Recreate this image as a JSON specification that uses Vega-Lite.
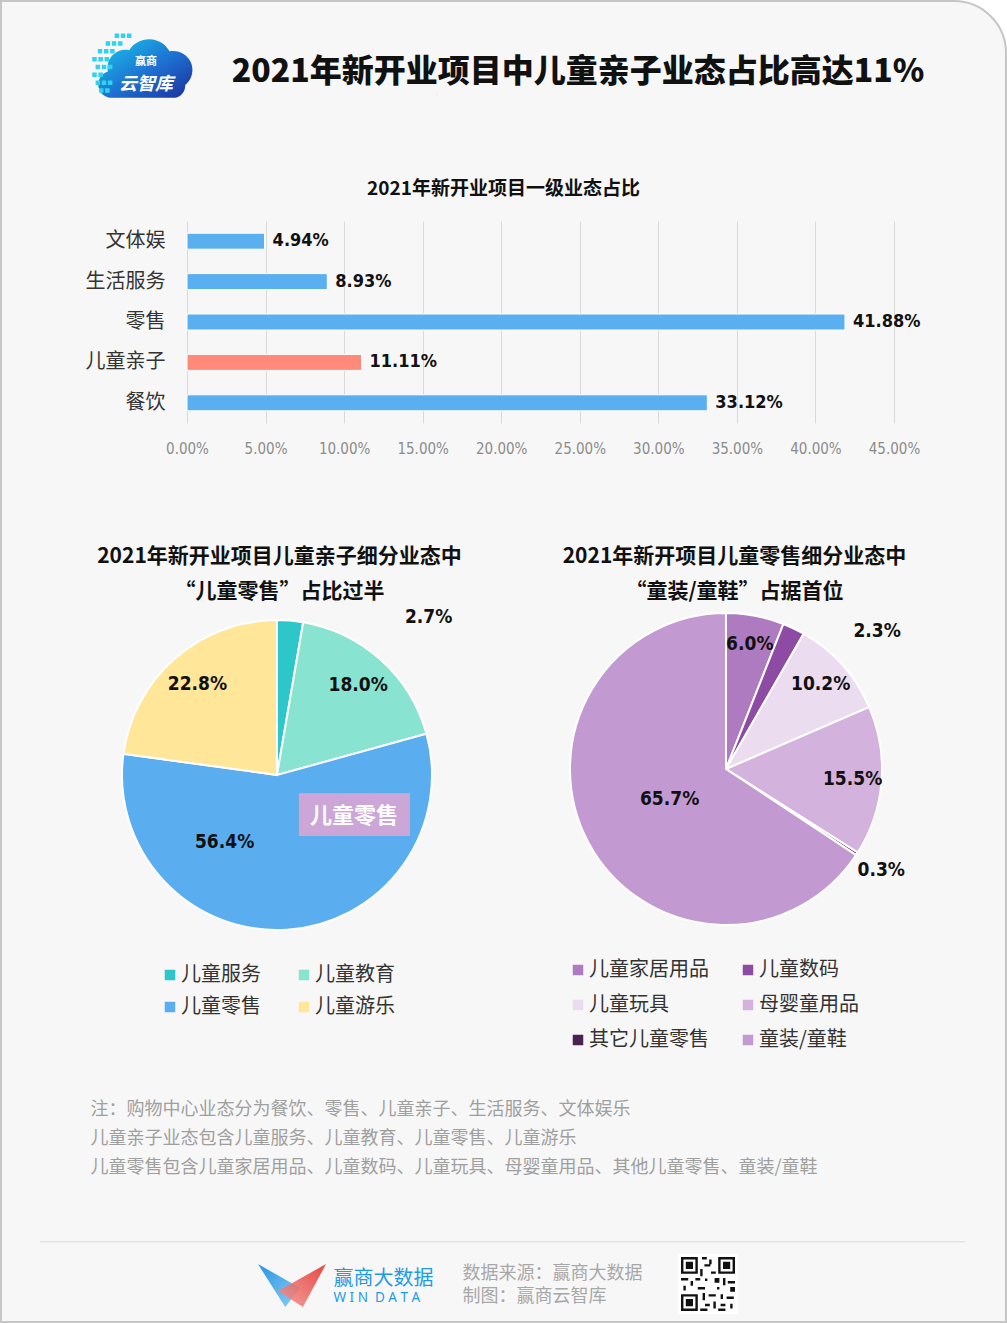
{
"$schema": "https://vega.github.io/schema/vega-lite/v6.json",
"background": "#ffffff",
"padding": 0,
"spacing": 0,
"bounds": "flush",
"resolve": {"scale": {"color": "independent", "theta": "independent"}, "legend": {"color": "independent"}},
"config": {"view": {"stroke": null}, "font": "Noto Sans CJK SC", "concat": {"spacing": 0}, "text": {"font": "Noto Sans CJK SC"}, "title": {"font": "Noto Sans CJK SC"}},
"vconcat": [
 {"hconcat": [
   {"width": 1, "height": 1, "data": {"values": []}, "mark": "point"},
   {"vconcat": [
     {"width": 1, "height": 1, "data": {"values": []}, "mark": "point"},
     {"width": 1005, "height": 1321, "data": {"values": [{"k": "frame"}]}, "mark": {"type": "rect", "fill": "#F7F7F7", "stroke": "#c6c6c6", "strokeWidth": 2, "cornerRadiusTopRight": 52}}
   ], "spacing": 0, "bounds": "flush"}
 ], "spacing": 0, "bounds": "flush"},
 {"hconcat": [
   {"width": 90, "height": 1, "data": {"values": []}, "mark": "point"},
   {"vconcat": [
     {"width": 112, "height": 33, "data": {"values": []}, "mark": "point"},
     {"width": 112, "height": 68, "layer": [
        {"data": {"values": [{"k": "cloud"}]}, "mark": {"type": "point", "filled": true, "opacity": 1, "size": 12544, "strokeWidth": 0, "shape": "M-0.6,0.55 A0.24,0.24 0 0 1 -0.68,0.08 A0.32,0.32 0 0 1 -0.3,-0.3 A0.42,0.42 0 0 1 0.42,-0.28 A0.34,0.34 0 0 1 0.7,0.32 A0.22,0.22 0 0 1 0.52,0.55 Z", "fill": {"gradient": "linear", "x1": 0, "y1": 0, "x2": 1, "y2": 1, "stops": [{"offset": 0, "color": "#19CBEE"}, {"offset": 0.55, "color": "#1E6FD0"}, {"offset": 1, "color": "#1B2F9A"}]}}},
        {"data": {"values": [{"k": "pixels"}]}, "mark": {"type": "point", "filled": true, "opacity": 1, "size": 12544, "strokeWidth": 0, "color": "#2FD3EE", "shape": "M-0.56,-0.6h0.08v0.08h-0.08z M-0.45,-0.6h0.08v0.08h-0.08z M-0.34,-0.6h0.08v0.08h-0.08z M-0.72,-0.46h0.08v0.08h-0.08z M-0.61,-0.46h0.08v0.08h-0.08z M-0.5,-0.46h0.08v0.08h-0.08z M-0.86,-0.32h0.08v0.08h-0.08z M-0.75,-0.32h0.08v0.08h-0.08z M-0.64,-0.32h0.08v0.08h-0.08z M-0.96,-0.18h0.08v0.08h-0.08z M-0.85,-0.18h0.08v0.08h-0.08z M-0.74,-0.18h0.08v0.08h-0.08z M-0.9,-0.04h0.08v0.08h-0.08z M-0.79,-0.04h0.08v0.08h-0.08z M-0.68,-0.04h0.08v0.08h-0.08z M-0.96,0.1h0.08v0.08h-0.08z M-0.85,0.1h0.08v0.08h-0.08z M-0.9,0.24h0.08v0.08h-0.08z M-0.79,0.24h0.08v0.08h-0.08z M-0.68,0.24h0.08v0.08h-0.08z M-0.84,0.38h0.08v0.08h-0.08z M-0.73,0.38h0.08v0.08h-0.08z"}},
        {"data": {"values": [{"t": "赢商", "r": "a"}]}, "mark": {"type": "text", "color": "#ffffff", "fontSize": 11, "fontWeight": "bold"}, "encoding": {"text": {"field": "t"}, "y": {"field": "r", "type": "nominal", "axis": null, "scale": {"domain": ["a", "b"], "padding": 1.12, "align": 0.64}}}},
        {"data": {"values": [{"t": "云智库", "r": "b"}]}, "mark": {"type": "text", "color": "#ffffff", "fontSize": 18, "fontWeight": "bold", "fontStyle": "italic"}, "encoding": {"text": {"field": "t"}, "y": {"field": "r", "type": "nominal", "axis": null}}}
     ]}
   ], "spacing": 0, "bounds": "flush"},
   {"width": 138, "height": 1, "data": {"values": []}, "mark": "point"},
   {"width": 700, "height": 144, "data": {"values": [{"t": "2021年新开业项目中儿童亲子业态占比高达11%"}]}, "mark": {"type": "text", "fontSize": 32, "fontWeight": 900, "color": "#111111"}, "encoding": {"text": {"field": "t"}}}
 ], "spacing": 0, "bounds": "flush"},
 {"width": 1007, "height": 221, "data": {"values": []}, "mark": "point"},
 {"hconcat": [
   {"width": 187, "height": 1, "data": {"values": []}, "mark": "point"},
   {"width": 707, "height": 202,
    "title": {"text": "2021年新开业项目一级业态占比", "fontSize": 19, "fontWeight": "bold", "color": "#111111", "anchor": "middle", "dx": -37, "offset": 22},
    "data": {"values": [
      {"cat": "文体娱", "v": 0.0494},
      {"cat": "生活服务", "v": 0.0893},
      {"cat": "零售", "v": 0.4188},
      {"cat": "儿童亲子", "v": 0.1111},
      {"cat": "餐饮", "v": 0.3312}]},
    "encoding": {
      "y": {"field": "cat", "type": "nominal", "sort": null, "title": null, "axis": {"labelFontSize": 20, "labelColor": "#333333", "labelFont": "Noto Sans CJK SC", "ticks": false, "tickSize": 0, "domain": false, "labelPadding": 22, "grid": false}},
      "x": {"field": "v", "type": "quantitative", "scale": {"domain": [0, 0.45], "nice": false}, "title": null, "axis": {"values": [0, 0.05, 0.1, 0.15, 0.2, 0.25, 0.3, 0.35, 0.4, 0.45], "format": ".2%", "labelOverlap": false, "labelFlush": false, "labelFontSize": 15, "labelColor": "#8c8c8c", "labelFont": "DejaVu Sans Condensed", "ticks": false, "tickSize": 0, "domain": false, "grid": true, "gridColor": "#d9d9d9", "labelPadding": 18}}
    },
    "layer": [
      {"mark": {"type": "bar", "size": 16, "stroke": "#ffffff", "strokeWidth": 1}, "encoding": {"color": {"condition": {"test": "datum.cat === '儿童亲子'", "value": "#FF8A7A"}, "value": "#5AAFF0"}}},
      {"mark": {"type": "text", "align": "left", "dx": 8, "font": "DejaVu Sans Condensed", "fontWeight": "bold", "fontSize": 18, "color": "#111111"}, "encoding": {"text": {"field": "v", "type": "quantitative", "format": ".2%"}}}
    ]}
 ], "spacing": 0, "bounds": "flush"},
 {"width": 1007, "height": 335, "data": {"values": []}, "mark": "point"},
 {"hconcat": [
   {"width": 278.5, "height": 1, "data": {"values": []}, "mark": "point"},
   {"width": 1, "height": 2, "data": {"values": [{"t": "2021年新开业项目儿童亲子细分业态中\n“儿童零售”占比过半"}]}, "mark": {"type": "text", "align": "center", "baseline": "middle", "lineBreak": "\n", "lineHeight": 35, "fontSize": 21, "fontWeight": "bold", "color": "#111111"}, "encoding": {"text": {"field": "t"}}},
   {"width": 454, "height": 1, "data": {"values": []}, "mark": "point"},
   {"width": 1, "height": 2, "data": {"values": [{"t": "2021年新开项目儿童零售细分业态中\n“童装/童鞋”占据首位"}]}, "mark": {"type": "text", "align": "center", "baseline": "middle", "lineBreak": "\n", "lineHeight": 35, "fontSize": 21, "fontWeight": "bold", "color": "#111111"}, "encoding": {"text": {"field": "t"}}}
 ], "spacing": 0, "bounds": "flush"},
 {"width": 1007, "height": 57, "data": {"values": []}, "mark": "point"},
 {"hconcat": [
   {"width": 554, "height": 324,
    "data": {"values": [
      {"name": "儿童服务", "v": 0.027, "i": 1},
      {"name": "儿童教育", "v": 0.18, "i": 2},
      {"name": "儿童零售", "v": 0.564, "i": 3},
      {"name": "儿童游乐", "v": 0.228, "i": 4}]},
    "encoding": {"theta": {"field": "v", "type": "quantitative", "stack": true}, "order": {"field": "i", "type": "quantitative"}},
    "layer": [
      {"mark": {"type": "arc", "outerRadius": 155, "stroke": "#ffffff", "strokeWidth": 2},
       "encoding": {"color": {"field": "name", "type": "nominal", "scale": {"domain": ["儿童服务", "儿童教育", "儿童零售", "儿童游乐"], "range": ["#2EC7C9", "#88E3D0", "#5AAEF0", "#FFE699"]},
         "legend": {"orient": "none", "legendX": 160, "legendY": 352, "columns": 2, "direction": "horizontal", "title": null, "symbolType": "square", "symbolSize": 110, "symbolStrokeWidth": 0, "labelFontSize": 20, "labelColor": "#333333", "labelFont": "Noto Sans CJK SC", "columnPadding": 33, "rowPadding": 12, "labelOffset": 1, "padding": 0}}}},
      {"mark": {"type": "text", "radius": 121, "font": "DejaVu Sans Condensed", "fontSize": 19, "fontWeight": "bold", "color": "#111111"},
       "encoding": {"detail": {"field": "name", "type": "nominal"}, "text": {"condition": {"test": "datum.name === '儿童教育' || datum.name === '儿童游乐'", "field": "v", "type": "quantitative", "format": ".1%"}, "value": ""}}},
      {"mark": {"type": "text", "radius": 85, "thetaOffset": 0.73, "font": "DejaVu Sans Condensed", "fontSize": 19, "fontWeight": "bold", "color": "#111111"},
       "encoding": {"detail": {"field": "name", "type": "nominal"}, "text": {"condition": {"test": "datum.name === '儿童零售'", "field": "v", "type": "quantitative", "format": ".1%"}, "value": ""}}},
      {"mark": {"type": "text", "radius": 219, "thetaOffset": 0.68, "font": "DejaVu Sans Condensed", "fontSize": 19, "fontWeight": "bold", "color": "#111111"},
       "encoding": {"detail": {"field": "name", "type": "nominal"}, "text": {"condition": {"test": "datum.name === '儿童服务'", "field": "v", "type": "quantitative", "format": ".1%"}, "value": ""}}},
      {"mark": {"type": "text", "radius": 87, "thetaOffset": -1.02, "font": "DejaVu Sans", "fontSize": 36, "color": "#CBA6D6"},
       "encoding": {"detail": {"field": "name", "type": "nominal"}, "text": {"condition": {"test": "datum.name === '儿童零售'", "value": "▐███▌"}, "value": ""}}},
      {"mark": {"type": "text", "radius": 87, "thetaOffset": -1.02, "fontSize": 22, "fontWeight": "bold", "color": "#ffffff"},
       "encoding": {"detail": {"field": "name", "type": "nominal"}, "text": {"condition": {"test": "datum.name === '儿童零售'", "field": "name", "type": "nominal"}, "value": ""}}}
    ]},
   {"width": 344, "height": 312,
    "data": {"values": [
      {"name": "儿童家居用品", "v": 0.06, "i": 1},
      {"name": "儿童数码", "v": 0.023, "i": 2},
      {"name": "儿童玩具", "v": 0.102, "i": 3},
      {"name": "母婴童用品", "v": 0.155, "i": 4},
      {"name": "其它儿童零售", "v": 0.003, "i": 5},
      {"name": "童装/童鞋", "v": 0.657, "i": 6}]},
    "encoding": {"theta": {"field": "v", "type": "quantitative", "stack": true}, "order": {"field": "i", "type": "quantitative"}},
    "layer": [
      {"mark": {"type": "arc", "outerRadius": 156, "stroke": "#ffffff", "strokeWidth": 2},
       "encoding": {"color": {"field": "name", "type": "nominal", "scale": {"domain": ["儿童家居用品", "儿童数码", "儿童玩具", "母婴童用品", "其它儿童零售", "童装/童鞋"], "range": ["#AE7BC0", "#8E4BA3", "#EBDCF0", "#D4B2DE", "#4B2254", "#C29AD1"]},
         "legend": {"orient": "none", "legendX": 14, "legendY": 347, "columns": 2, "direction": "horizontal", "title": null, "symbolType": "square", "symbolSize": 110, "symbolStrokeWidth": 0, "labelFontSize": 20, "labelColor": "#333333", "labelFont": "Noto Sans CJK SC", "columnPadding": 29, "rowPadding": 15, "labelOffset": 1, "padding": 0}}}},
      {"mark": {"type": "text", "radius": 127, "font": "DejaVu Sans Condensed", "fontSize": 19, "fontWeight": "bold", "color": "#111111"},
       "encoding": {"detail": {"field": "name", "type": "nominal"}, "text": {"condition": {"test": "datum.name === '儿童家居用品' || datum.name === '儿童玩具' || datum.name === '母婴童用品'", "field": "v", "type": "quantitative", "format": ".1%"}, "value": ""}}},
      {"mark": {"type": "text", "radius": 64, "font": "DejaVu Sans Condensed", "fontSize": 19, "fontWeight": "bold", "color": "#111111"},
       "encoding": {"detail": {"field": "name", "type": "nominal"}, "text": {"condition": {"test": "datum.name === '童装/童鞋'", "field": "v", "type": "quantitative", "format": ".1%"}, "value": ""}}},
      {"mark": {"type": "text", "radius": 205, "thetaOffset": 0.38, "font": "DejaVu Sans Condensed", "fontSize": 19, "fontWeight": "bold", "color": "#111111"},
       "encoding": {"detail": {"field": "name", "type": "nominal"}, "text": {"condition": {"test": "datum.name === '儿童数码'", "field": "v", "type": "quantitative", "format": ".1%"}, "value": ""}}},
      {"mark": {"type": "text", "radius": 185, "font": "DejaVu Sans Condensed", "fontSize": 19, "fontWeight": "bold", "color": "#111111"},
       "encoding": {"detail": {"field": "name", "type": "nominal"}, "text": {"condition": {"test": "datum.name === '其它儿童零售'", "field": "v", "type": "quantitative", "format": ".1%"}, "value": ""}}}
    ]}
 ], "spacing": 0, "bounds": "flush", "resolve": {"scale": {"color": "independent", "theta": "independent"}, "legend": {"color": "independent"}}},
 {"width": 1007, "height": 324, "data": {"values": []}, "mark": "point"},
 {"hconcat": [
   {"width": 90, "height": 1, "data": {"values": []}, "mark": "point"},
   {"vconcat": [
     {"width": 1, "height": 172, "data": {"values": []}, "mark": "point"},
     {"width": 1, "height": 2, "data": {"values": [{"t": "注：购物中心业态分为餐饮、零售、儿童亲子、生活服务、文体娱乐\n儿童亲子业态包含儿童服务、儿童教育、儿童零售、儿童游乐\n儿童零售包含儿童家居用品、儿童数码、儿童玩具、母婴童用品、其他儿童零售、童装/童鞋"}]}, "mark": {"type": "text", "align": "left", "baseline": "middle", "lineBreak": "\n", "lineHeight": 29, "fontSize": 18, "color": "#9f9f9f"}, "encoding": {"text": {"field": "t"}}}
   ], "spacing": 0, "bounds": "flush"}
 ], "spacing": 0, "bounds": "flush"},
 {"width": 1007, "height": 304, "data": {"values": []}, "mark": "point"},
 {"hconcat": [
   {"width": 40, "height": 1.5, "data": {"values": []}, "mark": "point"},
   {"width": 925, "height": 1.5, "data": {"values": [{"k": "sep"}]}, "mark": {"type": "rect", "color": "#e3e3e3"}},
   {"width": 42, "height": 1.5, "data": {"values": []}, "mark": "point"}
 ], "spacing": 0, "bounds": "flush"},
 {"width": 1007, "height": 1.5, "data": {"values": []}, "mark": "point"},
 {"hconcat": [
   {"width": 258, "height": 1, "data": {"values": []}, "mark": "point"},
   {"vconcat": [
     {"width": 68, "height": 21, "data": {"values": []}, "mark": "point"},
     {"width": 68, "height": 43, "layer": [
       {"data": {"values": [{"k": "blue"}]}, "mark": {"type": "point", "filled": true, "size": 4624, "strokeWidth": 0, "opacity": 0.95, "shape": "M-1,-0.63L0.24,0.07L-0.2,0.63Z", "fill": {"gradient": "linear", "x1": 0, "y1": 0, "x2": 1, "y2": 1, "stops": [{"offset": 0, "color": "#1E8FE0"}, {"offset": 1, "color": "#86CDF6"}]}}},
       {"data": {"values": [{"k": "red"}]}, "mark": {"type": "point", "filled": true, "size": 4624, "strokeWidth": 0, "opacity": 0.88, "shape": "M1,-0.63L-0.41,0.16L0.32,0.63Z", "fill": {"gradient": "linear", "x1": 1, "y1": 0, "x2": 0, "y2": 1, "stops": [{"offset": 0, "color": "#E3302C"}, {"offset": 1, "color": "#F39A95"}]}}}
     ]}
   ], "spacing": 0, "bounds": "flush"},
   {"width": 75, "height": 1, "data": {"values": []}, "mark": "point"},
   {"vconcat": [
     {"width": 1, "height": 35, "data": {"values": []}, "mark": "point"},
     {"width": 1, "height": 2, "data": {"values": [{"t": "赢商大数据"}]}, "mark": {"type": "text", "align": "left", "baseline": "middle", "fontSize": 20, "color": "#1E9BE3"}, "encoding": {"text": {"field": "t"}}},
     {"width": 1, "height": 17, "data": {"values": []}, "mark": "point"},
     {"width": 1, "height": 2, "data": {"values": [{"t": "W\u00a0I\u00a0N\u00a0\u00a0D\u00a0A\u00a0T\u00a0A"}]}, "mark": {"type": "text", "align": "left", "baseline": "middle", "fontSize": 13.5, "font": "Noto Sans", "color": "#1E9BE3"}, "encoding": {"text": {"field": "t"}}}
   ], "spacing": 0, "bounds": "flush"},
   {"width": 129, "height": 1, "data": {"values": []}, "mark": "point"},
   {"vconcat": [
     {"width": 1, "height": 29.5, "data": {"values": []}, "mark": "point"},
     {"width": 1, "height": 2, "data": {"values": [{"t": "数据来源：赢商大数据\n制图：赢商云智库"}]}, "mark": {"type": "text", "align": "left", "baseline": "middle", "lineBreak": "\n", "lineHeight": 23, "fontSize": 18, "color": "#a8a8a8"}, "encoding": {"text": {"field": "t"}}}
   ], "spacing": 0, "bounds": "flush"},
   {"width": 216, "height": 1, "data": {"values": []}, "mark": "point"},
   {"vconcat": [
     {"width": 60, "height": 10.5, "data": {"values": []}, "mark": "point"},
     {"width": 60, "height": 60, "layer": [
       {"data": {"values": [{"k": "qrbg"}]}, "mark": {"type": "rect", "color": "#ffffff"}},
       {"data": {"values": [{"k": "qr"}]}, "mark": {"type": "point", "filled": true, "size": 3600, "strokeWidth": 0, "opacity": 1, "color": "#111111", "shape": "M-0.9,-0.9H-0.34V-0.34H-0.9Z M-0.82,-0.82V-0.42H-0.42V-0.82Z M-0.74,-0.74H-0.5V-0.5H-0.74Z M0.34,-0.9H0.9V-0.34H0.34Z M0.42,-0.82V-0.42H0.82V-0.82Z M0.5,-0.74H0.74V-0.5H0.5Z M-0.9,0.34H-0.34V0.9H-0.9Z M-0.82,0.42V0.82H-0.42V0.42Z M-0.74,0.5H-0.5V0.74H-0.74Z M-0.2,-0.9h0.16v0.08h-0.16z M0.04,-0.82h0.08v0.16h-0.08z M-0.12,-0.66h0.2v0.08h-0.2z M-0.26,-0.5h0.08v0.24h-0.08z M0.1,-0.42h0.16v0.08h-0.16z M-0.9,-0.2h0.24v0.08h-0.24z M-0.58,-0.1h0.08v0.16h-0.08z M-0.42,-0.2h0.16v0.08h-0.16z M-0.1,-0.18h0.08v0.08h-0.08z M0.22,-0.2h0.16v0.16h-0.16z M0.5,-0.2h0.08v0.24h-0.08z M0.66,-0.1h0.24v0.08h-0.24z M-0.82,0.06h0.08v0.16h-0.08z M-0.34,0.1h0.24v0.08h-0.24z M0.3,0.1h0.08v0.08h-0.08z M0.74,0.1h0.16v0.16h-0.16z M-0.18,0.3h0.08v0.24h-0.08z M0.02,0.34h0.24v0.08h-0.24z M0.42,0.34h0.08v0.16h-0.08z M0.62,0.42h0.24v0.08h-0.24z M-0.1,0.66h0.16v0.08h-0.16z M0.18,0.58h0.08v0.24h-0.08z M0.42,0.66h0.16v0.08h-0.16z M0.74,0.66h0.08v0.16h-0.08z M-0.26,0.82h0.24v0.08h-0.24z M0.34,0.82h0.24v0.08h-0.24z"}}
     ]}
   ], "spacing": 0, "bounds": "flush"}
 ], "spacing": 0, "bounds": "flush"},
 {"width": 1007, "height": 80.5, "data": {"values": []}, "mark": "point"}
]
}
